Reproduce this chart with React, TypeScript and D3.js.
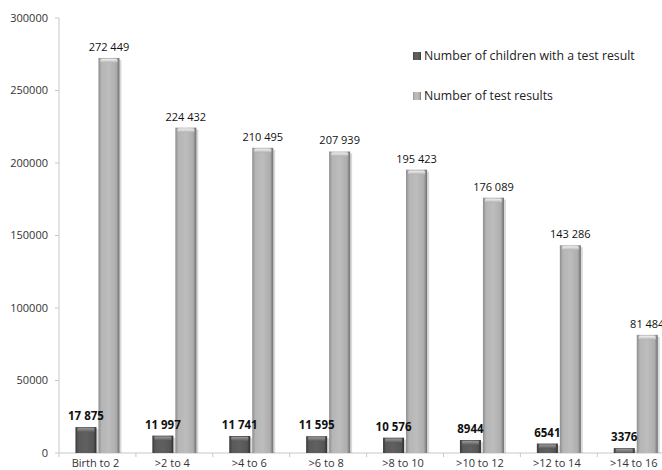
import React from "react";
import * as d3 from "d3";

const categories = ["Birth to 2", ">2 to 4", ">4 to 6", ">6 to 8", ">8 to 10", ">10 to 12", ">12 to 14", ">14 to 16"];
const children = [17875, 11997, 11741, 11595, 10576, 8944, 6541, 3376];
const results = [272449, 224432, 210495, 207939, 195423, 176089, 143286, 81484];
const childLabels = ["17 875", "11 997", "11 741", "11 595", "10 576", "8944", "6541", "3376"];
const resultLabels = ["272 449", "224 432", "210 495", "207 939", "195 423", "176 089", "143 286", "81 484"];
const yTicks = [0, 50000, 100000, 150000, 200000, 250000, 300000];
const seriesNames = ["Number of children with a test result", "Number of test results"];

const W = 662, H = 470;
const x0 = 59, step = 76.9;
const FONT = "'Open Sans', 'DejaVu Sans', sans-serif";

export default function App() {
  const y = d3.scaleLinear().domain([0, 300000]).range([453, 18]);
  const x = d3.scaleBand<string>().domain(categories).range([x0, x0 + step * categories.length]).paddingInner(0).paddingOuter(0);
  const bw = 21;
  const gap = 2;
  return (
    <div style={{ position: "fixed", left: 0, top: 0 }}>
      <svg width={W} height={H} style={{ display: "block", background: "#fff" }}>
        <defs>
          <linearGradient id="gLight" x1="0" x2="1" y1="0" y2="0">
            <stop offset="0" stopColor="#8c8c8c" />
            <stop offset="0.15" stopColor="#b5b5b5" />
            <stop offset="0.5" stopColor="#bdbdbd" />
            <stop offset="0.85" stopColor="#adadad" />
            <stop offset="1" stopColor="#6e6e6e" />
          </linearGradient>
          <linearGradient id="gDark" x1="0" x2="1" y1="0" y2="0">
            <stop offset="0" stopColor="#3a3a3a" />
            <stop offset="0.15" stopColor="#5a5a5a" />
            <stop offset="0.5" stopColor="#606060" />
            <stop offset="0.85" stopColor="#565656" />
            <stop offset="1" stopColor="#2e2e2e" />
          </linearGradient>
          <linearGradient id="gCapL" x1="0" x2="0" y1="0" y2="1">
            <stop offset="0" stopColor="#f2f2f2" />
            <stop offset="1" stopColor="#b0b0b0" />
          </linearGradient>
          <linearGradient id="gCapD" x1="0" x2="0" y1="0" y2="1">
            <stop offset="0" stopColor="#9a9a9a" />
            <stop offset="1" stopColor="#5a5a5a" />
          </linearGradient>
        </defs>
        {/* y axis */}
        <line x1={x0} x2={x0} y1={y(300000)} y2={y(0)} stroke="#c8c8c8" />
        {yTicks.map((t) => (
          <g key={t}>
            <line x1={x0 - 4} x2={x0} y1={y(t)} y2={y(t)} stroke="#c8c8c8" />
            <text x={48} y={y(t)} dy="0.35em" textAnchor="end" fontFamily={FONT} fontSize={11} fill="#333">{t}</text>
          </g>
        ))}
        {/* x axis */}
        <line x1={x0} x2={W} y1={y(0)} y2={y(0)} stroke="#c8c8c8" />
        {categories.map((c) => (
          <line key={c} x1={x(c)!} x2={x(c)!} y1={y(0)} y2={y(0) + 4} stroke="#c8c8c8" />
        ))}
        {categories.map((c, i) => {
          const cx = x(c)! + x.bandwidth() / 2;
          const dx = cx - gap / 2 - bw;
          const lx = cx + gap / 2;
          const dy = y(children[i]);
          const ly = y(results[i]);
          return (
            <g key={c}>
              <rect x={dx + 2} y={dy + 2} width={bw} height={y(0) - dy - 2} fill="#000" opacity={0.15} />
              <rect x={lx + 2} y={ly + 2} width={bw} height={y(0) - ly - 2} fill="#000" opacity={0.15} />
              <rect x={dx} y={dy} width={bw} height={y(0) - dy} fill="url(#gDark)" />
              <rect x={dx + 2} y={dy + 1} width={bw - 4} height={Math.min(4, y(0) - dy - 1)} fill="url(#gCapD)" />
              <rect x={lx} y={ly} width={bw} height={y(0) - ly} fill="url(#gLight)" />
              <rect x={lx + 2} y={ly + 1} width={bw - 4} height={4} rx={1.5} fill="url(#gCapL)" />
              <text x={dx + bw / 2} y={dy - 7} textAnchor="middle" fontFamily={FONT} fontSize={11.5} fontWeight="bold" fill="#111">{childLabels[i]}</text>
              <text x={lx + bw / 2} y={ly - 7} textAnchor="middle" fontFamily={FONT} fontSize={11} fill="#111">{resultLabels[i]}</text>
              <text x={cx - 2} y={467} textAnchor="middle" fontFamily={FONT} fontSize={11} fill="#333">{c}</text>
            </g>
          );
        })}
        {/* legend */}
        {seriesNames.map((s, i) => (
          <g key={s} transform={`translate(413, ${56 + i * 40})`}>
            <rect x={0} y={-4} width={8} height={8} fill={i === 0 ? "url(#gDark)" : "url(#gLight)"} />
            <text x={11} y={0} dy="0.35em" fontFamily={FONT} fontSize={12.3} fill="#222">{s}</text>
          </g>
        ))}
      </svg>
    </div>
  );
}
